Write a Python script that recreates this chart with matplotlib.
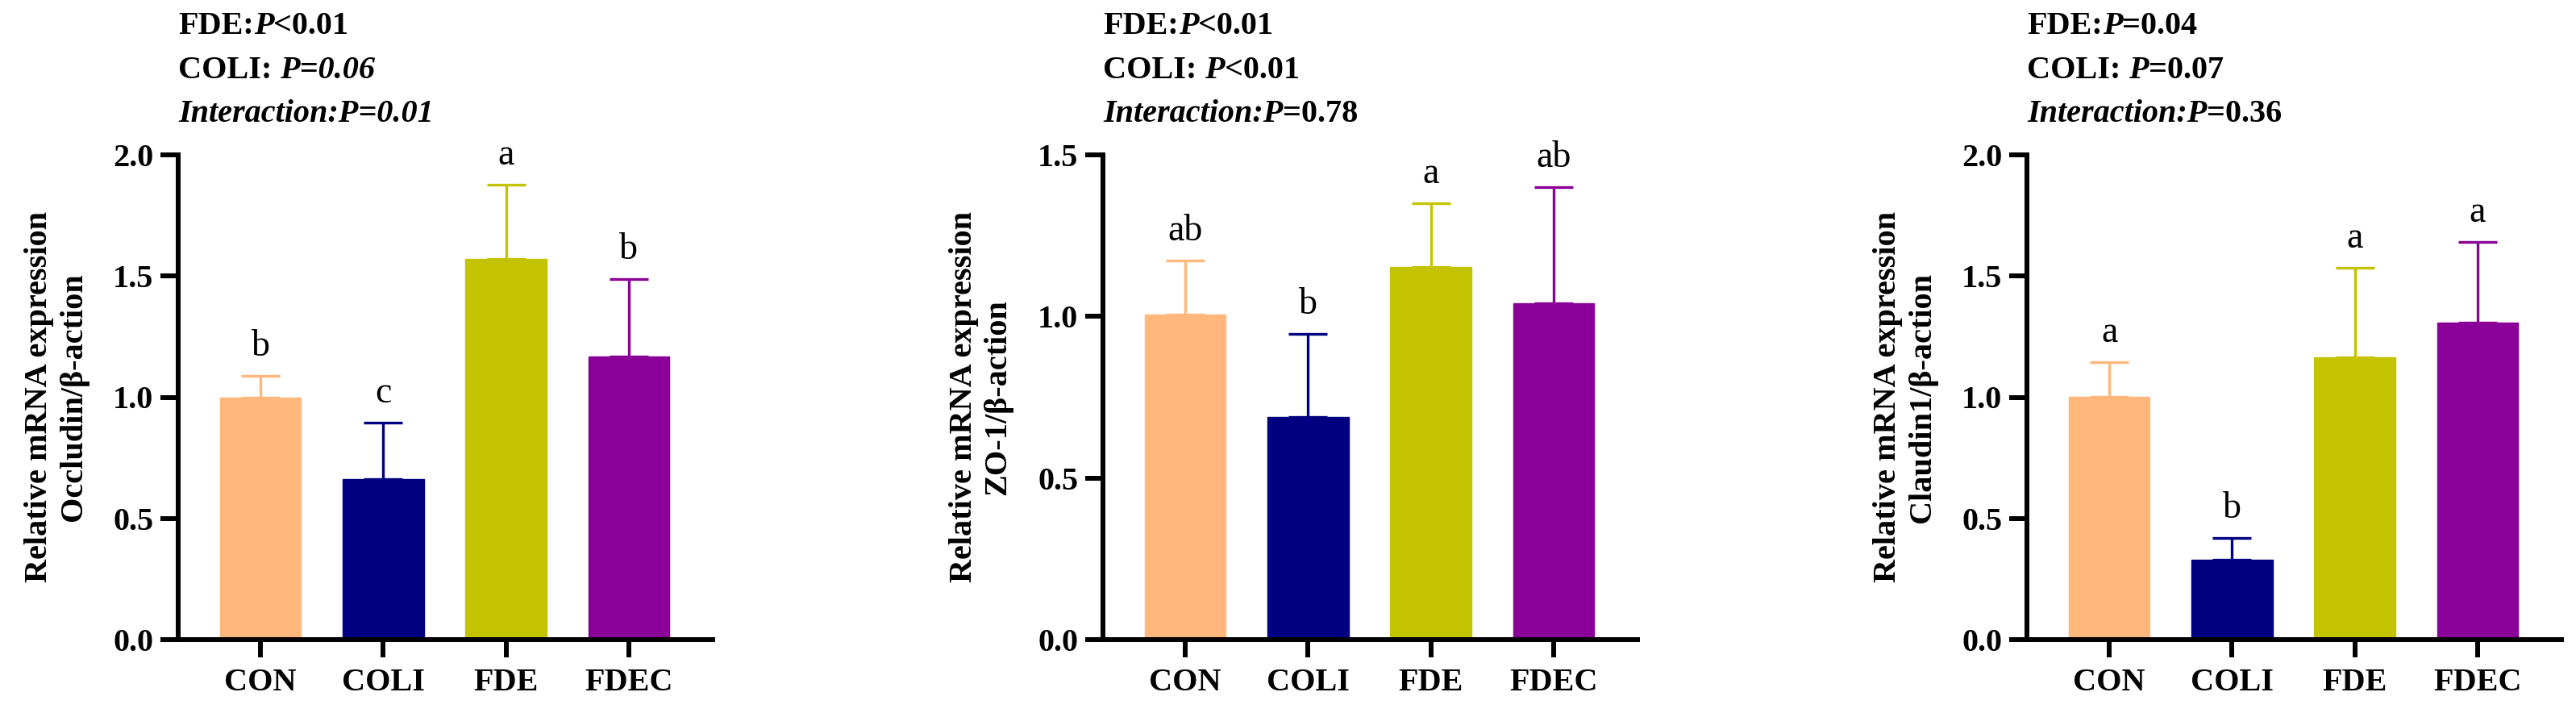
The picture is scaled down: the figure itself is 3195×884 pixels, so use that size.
import matplotlib
matplotlib.use('Agg')
import matplotlib.pyplot as plt

plt.rcParams['font.family'] = ['Liberation Serif', 'DejaVu Serif']

groups = ['CON', 'COLI', 'FDE', 'FDEC']
colors = ['#FFB77B', '#000080', '#C4C300', '#8A0099']

# Occludin
occludin_mean = [1.00, 0.663, 1.57, 1.169]
occludin_sd = [0.089, 0.231, 0.306, 0.318]
occludin_letters = ['b', 'c', 'a', 'b']

# ZO-1
zo1_mean = [1.007, 0.688, 1.152, 1.041]
zo1_sd = [0.166, 0.259, 0.199, 0.36]
zo1_letters = ['ab', 'b', 'a', 'ab']

# Claudin1
claudin_mean = [1.003, 0.328, 1.164, 1.309]
claudin_sd = [0.142, 0.091, 0.37, 0.332]
claudin_letters = ['a', 'b', 'a', 'a']

ylabels = ['Relative mRNA expression\nOccludin/\u03b2-action',
           'Relative mRNA expression\nZO-1/\u03b2-action',
           'Relative mRNA expression\nClaudin1/\u03b2-action']
ymax = [2.0, 1.5, 2.0]

# stats text: (string, italic?)
stats = [
    [[('FDE:', False), ('P', True), ('<0.01', False)],
     [('COLI: ', False), ('P=0.06', True)],
     [('Interaction:P=0.01', True)]],
    [[('FDE:', False), ('P', True), ('<0.01', False)],
     [('COLI: ', False), ('P', True), ('<0.01', False)],
     [('Interaction:P', True), ('=0.78', False)]],
    [[('FDE:', False), ('P', True), ('=0.04', False)],
     [('COLI: ', False), ('P', True), ('=0.07', False)],
     [('Interaction:P', True), ('=0.36', False)]],
]

means = [occludin_mean, zo1_mean, claudin_mean]
sds = [occludin_sd, zo1_sd, claudin_sd]
letters = [occludin_letters, zo1_letters, claudin_letters]

W, H = 3195, 884
fig = plt.figure(figsize=(W / 100, H / 100), dpi=100)
renderer = fig.canvas.get_renderer()

lefts = [221, 1368, 2514]
ax_w = 663
ax_bottom = (H - 793) / H
ax_h = (793 - 192) / H
FS = 29
LW = 4.3


def rich_text(x, y, parts):
    for s, ital in parts:
        t = fig.text(x, y, s, fontsize=FS, fontweight='bold',
                     fontstyle='italic' if ital else 'normal',
                     va='baseline', ha='left')
        bb = t.get_window_extent(renderer)
        x += bb.width / fig.bbox.width


for i in range(3):
    ax = fig.add_axes([lefts[i] / W, ax_bottom, ax_w / W, ax_h])
    x = list(range(len(groups)))
    for j in x:
        ax.bar(j, means[i][j], width=0.66, color=colors[j], edgecolor=colors[j],
               linewidth=1, zorder=2)
        ax.errorbar(j, means[i][j], yerr=[[0], [sds[i][j]]], color=colors[j],
                    elinewidth=2.4, capsize=17.5, capthick=2.4, zorder=1)
        ax.annotate(letters[i][j], (j, means[i][j] + sds[i][j]),
                    xytext=(0, 18), textcoords='offset points',
                    ha='center', va='baseline', fontsize=33)
    ax.set_xlim(-0.671, 3.684)
    ax.set_ylim(0, ymax[i])
    ax.set_yticks([k * 0.5 for k in range(int(ymax[i] / 0.5) + 1)])
    ax.set_yticklabels(['%.1f' % (k * 0.5) for k in range(int(ymax[i] / 0.5) + 1)])
    ax.set_xticks(x)
    ax.set_xticklabels(groups)
    for lab in ax.get_xticklabels() + ax.get_yticklabels():
        lab.set_fontweight('bold')
        lab.set_fontsize(FS)
    ax.spines['top'].set_visible(False)
    ax.spines['right'].set_visible(False)
    ax.spines['left'].set_linewidth(LW)
    ax.spines['bottom'].set_linewidth(LW)
    ax.tick_params(axis='both', width=LW, length=16, direction='out')
    ax.tick_params(axis='x', pad=9)
    ax.tick_params(axis='y', pad=6)
    ax.set_ylabel(ylabels[i], fontsize=FS, fontweight='bold', labelpad=22,
                  linespacing=1.2)

    baselines = [42, 97, 151]
    for line, yb in zip(stats[i], baselines):
        rich_text(lefts[i] / W, 1 - yb / H, line)

fig.savefig('out.png', dpi=100)
